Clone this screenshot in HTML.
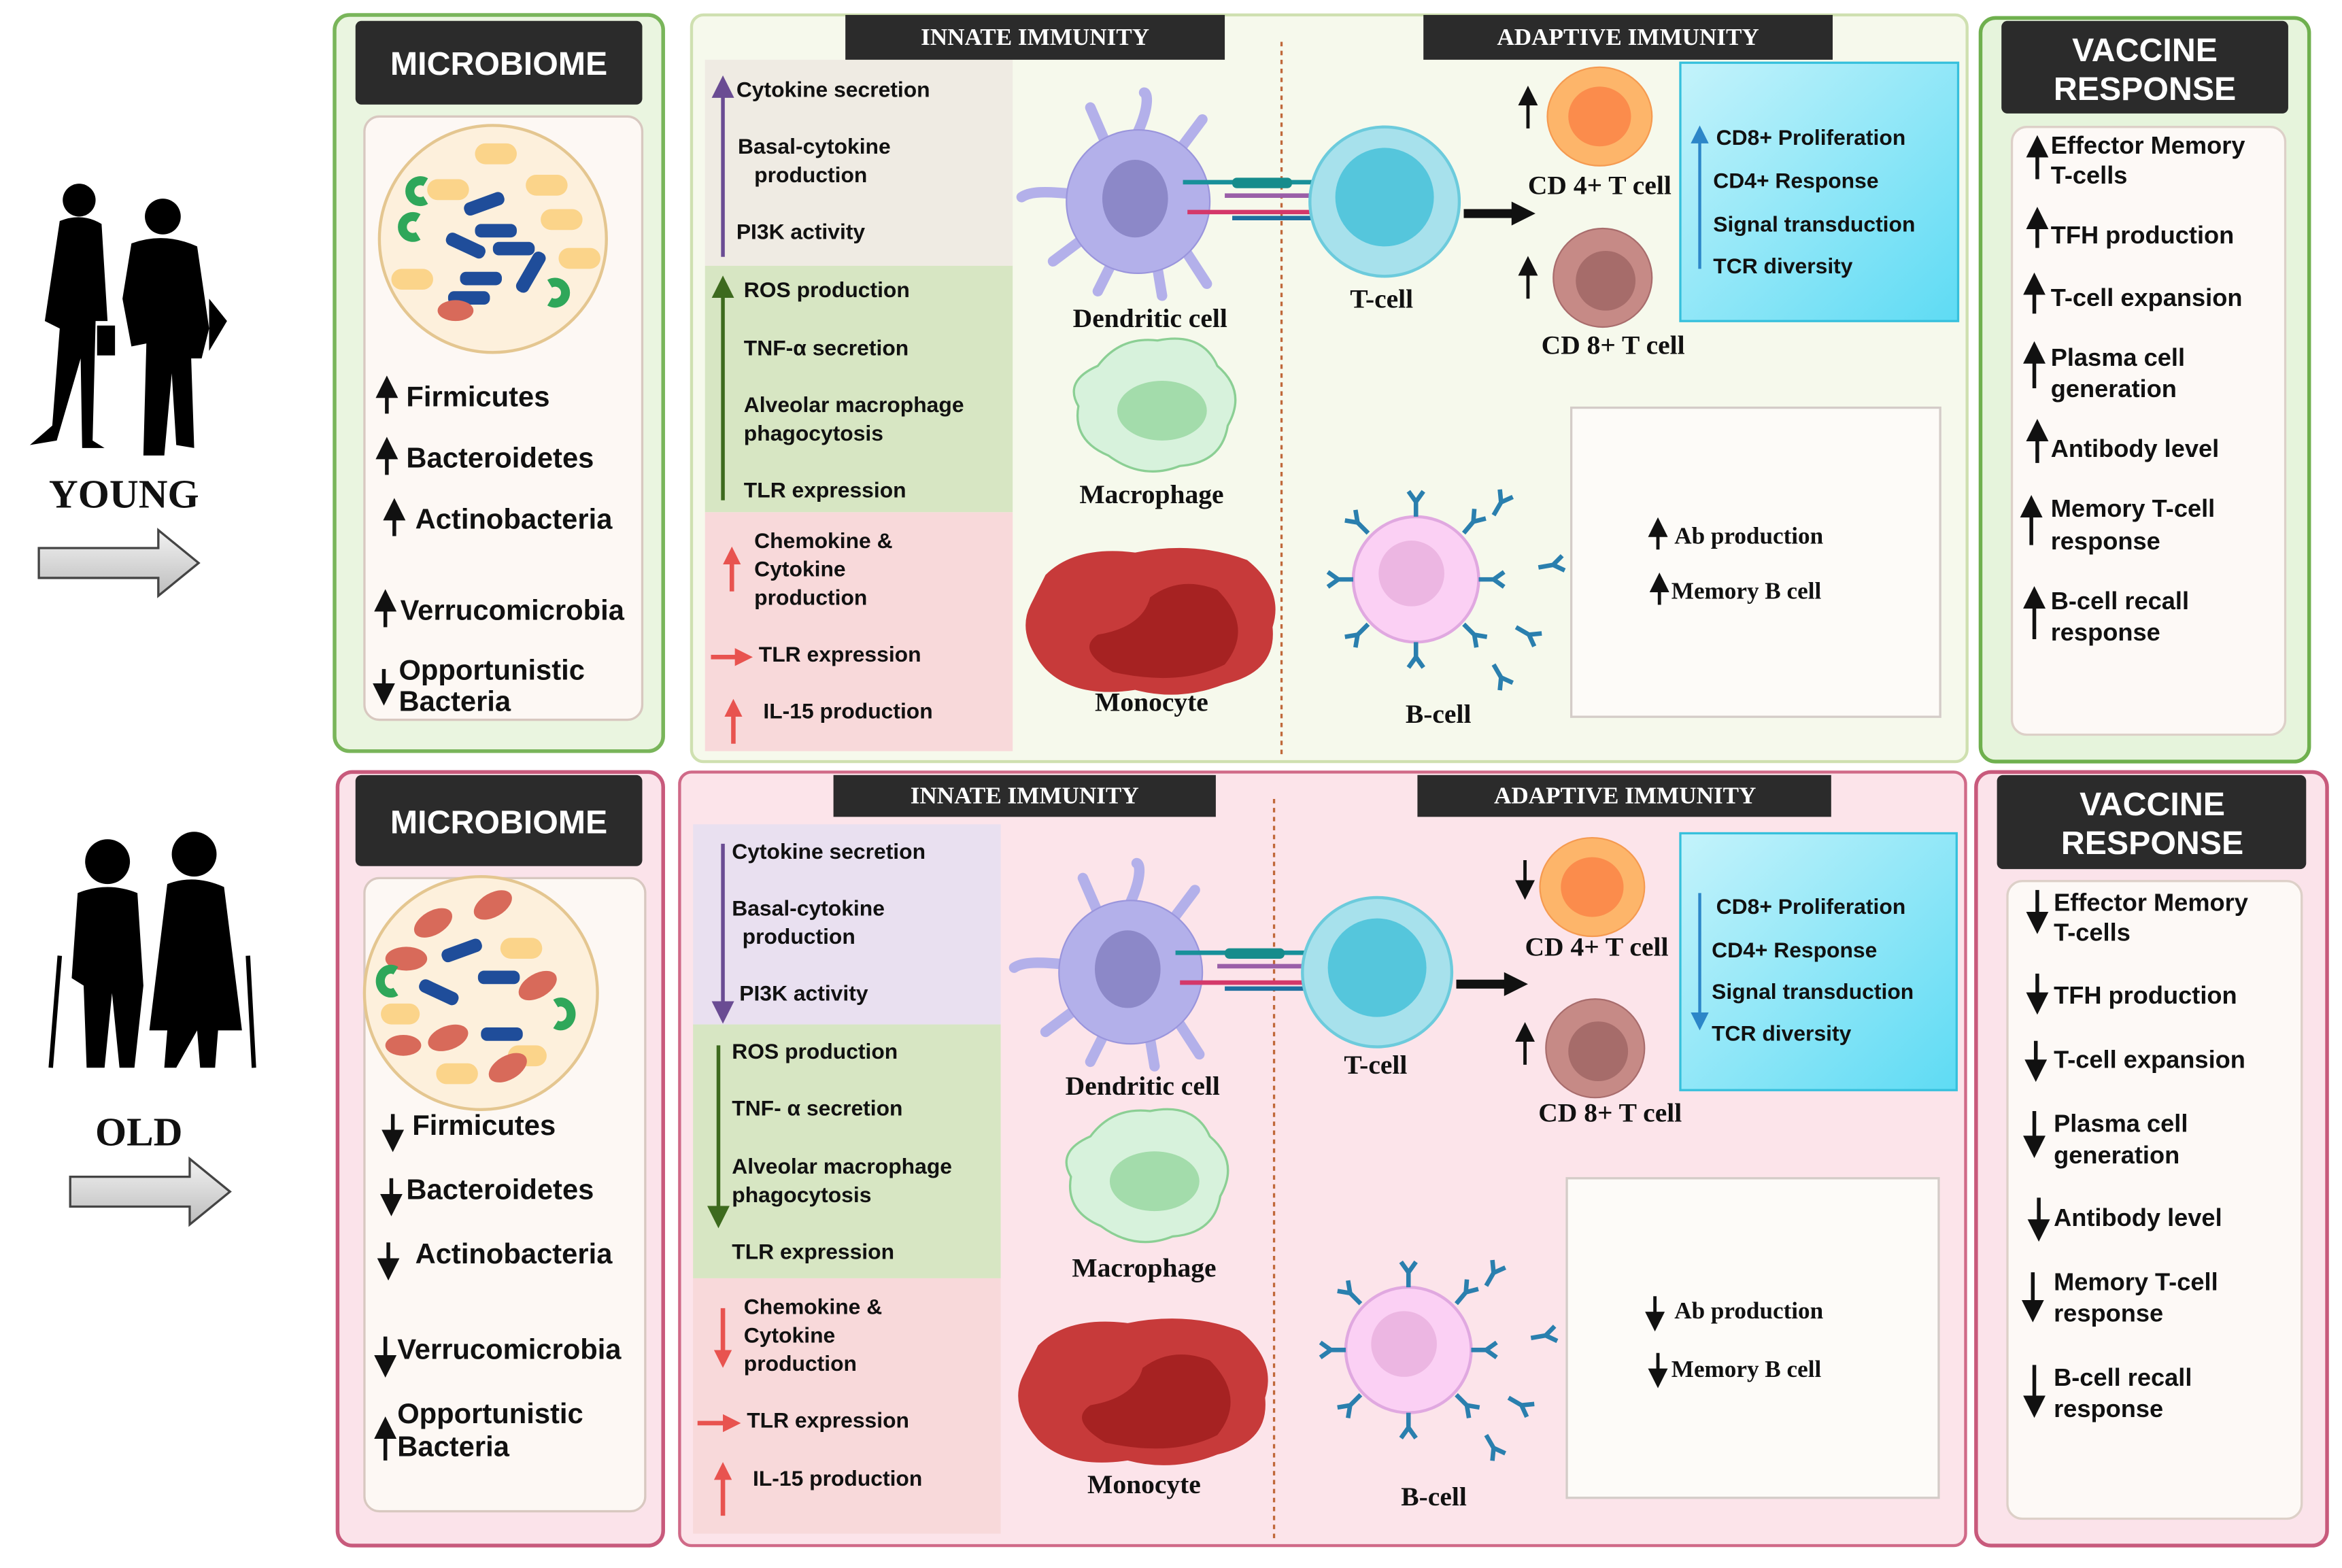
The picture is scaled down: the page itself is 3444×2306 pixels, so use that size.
<!DOCTYPE html>
<html><head><meta charset="utf-8"><style>
html,body{margin:0;padding:0;background:#fff;}
svg{display:block;}
.s{font-family:"Liberation Sans",sans-serif;font-weight:bold;fill:#111;}
.r{font-family:"Liberation Serif",serif;fill:#111;}
.h{font-family:"Liberation Serif",serif;fill:#fff;font-size:16px;font-weight:bold;}
.hb{font-family:"Liberation Sans",sans-serif;fill:#fff;font-weight:bold;}
</style></head><body>
<svg width="3444" height="2306" viewBox="0 0 1568 1050" preserveAspectRatio="none" xmlns="http://www.w3.org/2000/svg">
<defs>
<marker id="ak" markerWidth="6" markerHeight="6" refX="3" refY="3" orient="auto" markerUnits="strokeWidth"><path d="M0,0 L6,3 L0,6z" fill="#111"/></marker>
<marker id="ap" markerWidth="6" markerHeight="6" refX="3" refY="3" orient="auto" markerUnits="strokeWidth"><path d="M0,0 L6,3 L0,6z" fill="#6a4c93"/></marker>
<marker id="ag" markerWidth="6" markerHeight="6" refX="3" refY="3" orient="auto" markerUnits="strokeWidth"><path d="M0,0 L6,3 L0,6z" fill="#3d6a1e"/></marker>
<marker id="ar" markerWidth="4" markerHeight="4" refX="2" refY="2" orient="auto" markerUnits="strokeWidth"><path d="M0,0 L4,2 L0,4z" fill="#e8534f"/></marker>
<marker id="ab" markerWidth="6" markerHeight="6" refX="3" refY="3" orient="auto" markerUnits="strokeWidth"><path d="M0,0 L6,3 L0,6z" fill="#2c86c8"/></marker>
<linearGradient id="cy" x1="0" y1="0" x2="1" y2="1"><stop offset="0" stop-color="#c4f3fb"/><stop offset="1" stop-color="#5edbf4"/></linearGradient>
<linearGradient id="ga" x1="0" y1="0" x2="0" y2="1"><stop offset="0" stop-color="#f2f2f2"/><stop offset="1" stop-color="#bdbdbd"/></linearGradient>
<g id="ab1"><path d="M0,0 v-10 M0,-10 l-5,-7 M0,-10 l5,-7" stroke="#2a7fae" stroke-width="3" fill="none"/></g>
<g id="cells">
 <g fill="#b3b0ea" stroke="#9a95dc" stroke-width="1">
  <path d="M762,88 C770,70 768,62 766,62 M720,130 C700,128 690,128 684,132" stroke="#b3b0ea" stroke-width="7" fill="none" stroke-linecap="round"/>
  <path d="M740,95 L730,72 M790,100 L805,80 M795,170 L808,190 M745,175 L735,195 M725,160 L705,175 M775,180 L778,198" stroke="#b3b0ea" stroke-width="7" fill="none" stroke-linecap="round"/>
  <ellipse cx="762" cy="135" rx="48" ry="48"/>
 </g>
 <ellipse cx="760" cy="133" rx="22" ry="26" fill="#8c88c8"/>
 <g stroke-width="3">
  <path d="M792,122 h100" stroke="#18909a"/><path d="M820,131 h60" stroke="#9a5fa8"/><path d="M795,142 h90" stroke="#d4386a"/><path d="M825,146 h65" stroke="#1f6fa0"/>
 </g>
 <rect x="825" y="119" width="40" height="7" rx="3" fill="#168c8c"/>
 <circle cx="927" cy="135" r="50" fill="#a7e1ec" stroke="#6ccbdc" stroke-width="2"/>
 <circle cx="927" cy="132" r="33" fill="#55c6dc"/>
 <path d="M980,143 h34" stroke="#111" stroke-width="6"/><path d="M1012,135 l16,8 l-16,8z" fill="#111"/>
 <ellipse cx="1071" cy="78" rx="35" ry="33" fill="#fdb56a" stroke="#f59a50"/>
 <ellipse cx="1071" cy="78" rx="21" ry="20" fill="#fb8c4c"/>
 <ellipse cx="1073" cy="186" rx="33" ry="33" fill="#c68a86" stroke="#a86c6c"/>
 <ellipse cx="1075" cy="188" rx="20" ry="20" fill="#a66c6a"/>
 <path d="M735,245 Q750,225 775,228 Q805,222 815,245 Q835,262 822,285 Q818,310 790,312 Q765,322 742,305 Q718,295 722,272 Q712,255 735,245z" fill="#d7f2dc" stroke="#8bcf94" stroke-width="1.5"/>
 <ellipse cx="778" cy="275" rx="30" ry="20" fill="#a3dcab"/>
 <path d="M700,385 Q720,365 760,370 Q800,362 835,375 Q860,395 852,420 Q855,450 820,458 Q790,470 760,462 Q720,468 700,448 Q680,425 690,405z" fill="#c73a3a"/>
 <path d="M770,400 Q790,385 815,395 Q840,420 820,445 Q790,460 745,450 Q720,435 735,425 Q765,420 770,400z" fill="#a62222"/>
 <circle cx="948" cy="388" r="42" fill="#fbd0f4" stroke="#e0a8e0" stroke-width="2"/>
 <circle cx="945" cy="384" r="22" fill="#ecb6e2"/>
 <g>
  <use href="#ab1" transform="translate(948,346)"/>
  <use href="#ab1" transform="translate(980,357) rotate(40)"/>
  <use href="#ab1" transform="translate(990,388) rotate(90)"/>
  <use href="#ab1" transform="translate(980,418) rotate(135)"/>
  <use href="#ab1" transform="translate(948,430) rotate(180)"/>
  <use href="#ab1" transform="translate(916,418) rotate(225)"/>
  <use href="#ab1" transform="translate(906,388) rotate(270)"/>
  <use href="#ab1" transform="translate(916,357) rotate(315)"/>
  <use href="#ab1" transform="translate(1000,345) rotate(30)"/>
  <use href="#ab1" transform="translate(1030,380) rotate(80)"/>
  <use href="#ab1" transform="translate(1015,420) rotate(120)"/>
  <use href="#ab1" transform="translate(1000,445) rotate(150)"/>
 </g>
</g>
</defs>

<g fill="#000">
 <circle cx="53" cy="134" r="11"/><path d="M40,148 Q55,142 68,150 L72,215 L64,215 L62,295 L70,300 L55,300 L54,240 L38,295 L20,298 L35,285 L40,220 L30,215 Z"/>
 <rect x="65" y="218" width="12" height="20"/>
 <circle cx="109" cy="145" r="12"/><path d="M88,163 Q110,155 132,165 L140,220 L135,240 L128,240 L130,300 L118,298 L115,250 L110,305 L96,305 L98,230 L88,232 L82,200 Z"/>
 <path d="M140,200 L152,215 L140,235z"/>
</g>
<text x="83" y="340" text-anchor="middle" class="r" font-size="27" font-weight="bold">YOUNG</text>
<path d="M26,367 h80 v-12 l27,22 l-27,22 v-12 h-80z" fill="url(#ga)" stroke="#444" stroke-width="1.5"/>
<g fill="#000">
 <circle cx="72" cy="577" r="15"/><path d="M52,598 Q72,590 92,598 L96,660 L90,715 L80,715 L75,665 L70,715 L58,715 L56,660 L48,655 Z"/>
 <circle cx="130" cy="572" r="15"/><path d="M112,592 Q130,585 150,594 L162,690 L146,690 L144,715 L134,715 L132,690 L118,715 L110,715 L112,690 L100,690 Z"/>
 <path d="M40,640 L34,715 M166,640 L170,715" stroke="#000" stroke-width="3"/>
</g>
<text x="93" y="767" text-anchor="middle" class="r" font-size="27" font-weight="bold">OLD</text>
<path d="M47,788 h80 v-12 l27,22 l-27,22 v-12 h-80z" fill="url(#ga)" stroke="#444" stroke-width="1.5"/>

<!-- TOP ROW -->
<rect x="224" y="10" width="220" height="493" rx="10" fill="#eaf5e0" stroke="#79b55a" stroke-width="2.5"/>
<rect x="238" y="14" width="192" height="56" rx="4" fill="#2b2b2b"/>
<text x="334" y="50" text-anchor="middle" class="hb" font-size="22">MICROBIOME</text>
<rect x="244" y="78" width="186" height="404" rx="10" fill="#fdf8f4" stroke="#d8c8c0" stroke-width="1.5"/>
<circle cx="330" cy="160" r="76" fill="#fdf0dc" stroke="#e4c690" stroke-width="2"/>
<g fill="#fbd48a"><rect x="318" y="96" width="28" height="14" rx="7"/><rect x="286" y="120" width="28" height="14" rx="7"/><rect x="352" y="117" width="28" height="14" rx="7"/><rect x="362" y="140" width="28" height="14" rx="7"/><rect x="374" y="166" width="28" height="14" rx="7"/><rect x="262" y="180" width="28" height="14" rx="7"/></g>
<g fill="#1f4d9a"><rect x="310" y="132" width="28" height="9" rx="4" transform="rotate(-20 324 136)"/><rect x="318" y="150" width="28" height="9" rx="4"/><rect x="330" y="162" width="28" height="9" rx="4"/><rect x="298" y="160" width="28" height="9" rx="4" transform="rotate(25 312 164)"/><rect x="308" y="182" width="28" height="9" rx="4"/><rect x="340" y="178" width="30" height="9" rx="4" transform="rotate(-60 355 182)"/><rect x="300" y="195" width="28" height="9" rx="4"/></g>
<g fill="none" stroke="#2fa75a" stroke-width="6"><path d="M285,122 a7,7 0 1,0 0,12"/><path d="M280,146 a7,7 0 1,0 0,12"/><path d="M368,190 a7,7 0 1,1 0,12"/></g>
<ellipse cx="305" cy="208" rx="12" ry="7" fill="#d86a5a"/>
<g class="s" font-size="19">
<text x="272" y="272">Firmicutes</text><text x="272" y="313">Bacteroidetes</text><text x="278" y="354">Actinobacteria</text><text x="268" y="415">Verrucomicrobia</text><text x="267" y="455">Opportunistic</text><text x="267" y="476">Bacteria</text>
</g>
<g stroke="#111" stroke-width="2.5" marker-end="url(#ak)"><path d="M259,277 v-18"/><path d="M259,318 v-18"/><path d="M264,359 v-18"/><path d="M258,420 v-18"/><path d="M257,448 v17"/></g>

<rect x="463" y="10" width="854" height="500" rx="8" fill="#f6f9ec" stroke="#cfe0b0" stroke-width="2"/>
<rect x="472" y="40" width="206" height="138" fill="#efebe3"/>
<rect x="472" y="178" width="206" height="165" fill="#d7e6c3"/>
<rect x="472" y="343" width="206" height="160" fill="#f8d9da"/>
<rect x="566" y="10" width="254" height="30" fill="#2b2b2b"/>
<text x="693" y="30" text-anchor="middle" class="h">INNATE IMMUNITY</text>
<rect x="953" y="10" width="274" height="30" fill="#2b2b2b"/>
<text x="1090" y="30" text-anchor="middle" class="h">ADAPTIVE IMMUNITY</text>
<path d="M858,28 V505" stroke="#c0683a" stroke-width="1.5" stroke-dasharray="3,3"/>
<g class="s" font-size="14.5">
<text x="493" y="65">Cytokine secretion</text><text x="494" y="103">Basal-cytokine</text><text x="505" y="122">production</text><text x="493" y="160">PI3K activity</text>
<text x="498" y="199">ROS production</text><text x="498" y="238">TNF-α secretion</text><text x="498" y="276">Alveolar macrophage</text><text x="498" y="295">phagocytosis</text><text x="498" y="333">TLR expression</text>
<text x="505" y="367">Chemokine &amp;</text><text x="505" y="386">Cytokine</text><text x="505" y="405">production</text><text x="508" y="443">TLR expression</text><text x="511" y="481">IL-15 production</text>
</g>
<path d="M484,172 V58" stroke="#6a4c93" stroke-width="2.5" marker-end="url(#ap)"/>
<path d="M484,335 V192" stroke="#3d6a1e" stroke-width="2.5" marker-end="url(#ag)"/>
<path d="M490,396 V372" stroke="#e8534f" stroke-width="3" marker-end="url(#ar)"/>
<path d="M476,440 H498" stroke="#e8534f" stroke-width="3" marker-end="url(#ar)"/>
<path d="M491,498 V474" stroke="#e8534f" stroke-width="3" marker-end="url(#ar)"/>

<rect x="1052" y="273" width="247" height="207" fill="#fdfbf8" stroke="#d4ccc8" stroke-width="1.5"/>
<use href="#cells"/>
<g class="r" font-size="18" font-weight="bold" text-anchor="middle">
<text x="770" y="219">Dendritic cell</text><text x="771" y="337">Macrophage</text><text x="771" y="476">Monocyte</text><text x="925" y="206">T-cell</text><text x="1071" y="130">CD 4+ T cell</text><text x="1080" y="237">CD 8+ T cell</text><text x="963" y="484">B-cell</text>
</g>
<g stroke="#111" stroke-width="2.2" marker-end="url(#ak)"><path d="M1023,86 v-22"/><path d="M1023,200 v-22"/><path d="M1110,368 v-15"/><path d="M1111,405 v-15"/></g>
<rect x="1125" y="42" width="186" height="173" fill="url(#cy)" stroke="#36c0dc" stroke-width="1.5"/>
<path d="M1138,180 V90" stroke="#2c86c8" stroke-width="2" marker-end="url(#ab)"/>
<g class="s" font-size="14.5"><text x="1149" y="97">CD8+ Proliferation</text><text x="1147" y="126">CD4+ Response</text><text x="1147" y="155">Signal transduction</text><text x="1147" y="183">TCR diversity</text></g>
<g class="r" font-size="16" font-weight="bold"><text x="1121" y="364">Ab production</text><text x="1119" y="401">Memory B cell</text></g>

<rect x="1326" y="12" width="220" height="498" rx="10" fill="#e6f4dc" stroke="#6fb04e" stroke-width="2.5"/>
<rect x="1340" y="14" width="192" height="62" rx="4" fill="#2b2b2b"/>
<text x="1436" y="41" text-anchor="middle" class="hb" font-size="22">VACCINE</text>
<text x="1436" y="67" text-anchor="middle" class="hb" font-size="22">RESPONSE</text>
<rect x="1347" y="85" width="183" height="407" rx="10" fill="#fdf9f6" stroke="#ddd0c8" stroke-width="1.5"/>
<g class="s" font-size="16.5">
<text x="1373" y="103">Effector Memory</text><text x="1373" y="123">T-cells</text><text x="1373" y="163">TFH production</text><text x="1373" y="205">T-cell expansion</text><text x="1373" y="245">Plasma cell</text><text x="1373" y="266">generation</text><text x="1373" y="306">Antibody level</text><text x="1373" y="346">Memory T-cell</text><text x="1373" y="368">response</text><text x="1373" y="408">B-cell recall</text><text x="1373" y="429">response</text>
</g>
<g stroke="#111" stroke-width="2.5" marker-end="url(#ak)"><path d="M1364,120 v-22"/><path d="M1364,166 v-20"/><path d="M1362,210 v-20"/><path d="M1362,260 v-24"/><path d="M1364,310 v-22"/><path d="M1360,365 v-26"/><path d="M1362,428 v-28"/></g>

<!-- BOTTOM ROW -->
<rect x="226" y="517" width="218" height="518" rx="10" fill="#fbe3ea" stroke="#c85a7c" stroke-width="2.5"/>
<rect x="238" y="519" width="192" height="61" rx="4" fill="#2b2b2b"/>
<text x="334" y="558" text-anchor="middle" class="hb" font-size="22">MICROBIOME</text>
<rect x="244" y="588" width="188" height="424" rx="10" fill="#fdf8f4" stroke="#d8c8c0" stroke-width="1.5"/>
<circle cx="322" cy="665" r="78" fill="#fdf0dc" stroke="#e4c690" stroke-width="2"/>
<g fill="#fbd48a"><rect x="335" y="628" width="28" height="14" rx="7"/><rect x="255" y="672" width="26" height="14" rx="7"/><rect x="292" y="712" width="28" height="14" rx="7"/><rect x="340" y="700" width="26" height="14" rx="7"/></g>
<g fill="#1f4d9a"><rect x="295" y="632" width="28" height="9" rx="4" transform="rotate(-20 309 636)"/><rect x="280" y="660" width="28" height="9" rx="4" transform="rotate(25 294 664)"/><rect x="320" y="650" width="28" height="9" rx="4"/><rect x="322" y="688" width="28" height="9" rx="4"/></g>
<g fill="#d86a5a"><ellipse cx="290" cy="618" rx="14" ry="8" transform="rotate(-30 290 618)"/><ellipse cx="330" cy="606" rx="14" ry="8" transform="rotate(-30 330 606)"/><ellipse cx="272" cy="642" rx="14" ry="8"/><ellipse cx="360" cy="660" rx="14" ry="8" transform="rotate(-30 360 660)"/><ellipse cx="300" cy="695" rx="14" ry="8" transform="rotate(-20 300 695)"/><ellipse cx="340" cy="715" rx="14" ry="8" transform="rotate(-30 340 715)"/><ellipse cx="270" cy="700" rx="12" ry="7"/></g>
<g fill="none" stroke="#2fa75a" stroke-width="6"><path d="M265,650 a7,8 0 1,0 0,14"/><path d="M372,672 a7,8 0 1,1 0,14"/></g>
<g class="s" font-size="19">
<text x="276" y="760">Firmicutes</text><text x="272" y="803">Bacteroidetes</text><text x="278" y="846">Actinobacteria</text><text x="266" y="910">Verrucomicrobia</text><text x="266" y="953">Opportunistic</text><text x="266" y="975">Bacteria</text>
</g>
<g stroke="#111" stroke-width="2.5" marker-end="url(#ak)"><path d="M263,746 v18"/><path d="M262,789 v18"/><path d="M260,832 v18"/><path d="M258,895 v20"/><path d="M258,978 v-22"/></g>

<rect x="455" y="517" width="861" height="518" rx="8" fill="#fce4ea" stroke="#d06a88" stroke-width="2"/>
<rect x="464" y="552" width="206" height="134" fill="#e9e0f0"/>
<rect x="464" y="686" width="206" height="170" fill="#d7e6c3"/>
<rect x="464" y="856" width="206" height="171" fill="#f8d9da"/>
<rect x="558" y="519" width="256" height="28" fill="#2b2b2b"/>
<text x="686" y="538" text-anchor="middle" class="h">INNATE IMMUNITY</text>
<rect x="949" y="519" width="277" height="28" fill="#2b2b2b"/>
<text x="1088" y="538" text-anchor="middle" class="h">ADAPTIVE IMMUNITY</text>
<path d="M853,535 V1030" stroke="#c0683a" stroke-width="1.5" stroke-dasharray="3,3"/>
<g class="s" font-size="14.5">
<text x="490" y="575">Cytokine secretion</text><text x="490" y="613">Basal-cytokine</text><text x="497" y="632">production</text><text x="495" y="670">PI3K activity</text>
<text x="490" y="709">ROS production</text><text x="490" y="747">TNF- α secretion</text><text x="490" y="786">Alveolar macrophage</text><text x="490" y="805">phagocytosis</text><text x="490" y="843">TLR expression</text>
<text x="498" y="880">Chemokine &amp;</text><text x="498" y="899">Cytokine</text><text x="498" y="918">production</text><text x="500" y="956">TLR expression</text><text x="504" y="995">IL-15 production</text>
</g>
<path d="M484,565 V678" stroke="#6a4c93" stroke-width="2.5" marker-end="url(#ap)"/>
<path d="M481,700 V815" stroke="#3d6a1e" stroke-width="2.5" marker-end="url(#ag)"/>
<path d="M484,876 V910" stroke="#e8534f" stroke-width="3" marker-end="url(#ar)"/>
<path d="M467,953 H490" stroke="#e8534f" stroke-width="3" marker-end="url(#ar)"/>
<path d="M484,1015 V985" stroke="#e8534f" stroke-width="3" marker-end="url(#ar)"/>

<rect x="1049" y="789" width="249" height="214" fill="#fdfbf8" stroke="#d4ccc8" stroke-width="1.5"/>
<use href="#cells" transform="translate(-5,516)"/>
<g class="r" font-size="18" font-weight="bold" text-anchor="middle">
<text x="765" y="733">Dendritic cell</text><text x="766" y="855">Macrophage</text><text x="766" y="1000">Monocyte</text><text x="921" y="719">T-cell</text><text x="1069" y="640">CD 4+ T cell</text><text x="1078" y="751">CD 8+ T cell</text><text x="960" y="1008">B-cell</text>
</g>
<g stroke="#111" stroke-width="2.2" marker-end="url(#ak)"><path d="M1021,576 v20"/><path d="M1021,713 v-22"/><path d="M1108,868 v17"/><path d="M1110,906 v17"/></g>
<rect x="1125" y="558" width="185" height="172" fill="url(#cy)" stroke="#36c0dc" stroke-width="1.5"/>
<path d="M1138,598 V684" stroke="#2c86c8" stroke-width="2" marker-end="url(#ab)"/>
<g class="s" font-size="14.5"><text x="1149" y="612">CD8+ Proliferation</text><text x="1146" y="641">CD4+ Response</text><text x="1146" y="669">Signal transduction</text><text x="1146" y="697">TCR diversity</text></g>
<g class="r" font-size="16" font-weight="bold"><text x="1121" y="883">Ab production</text><text x="1119" y="922">Memory B cell</text></g>

<rect x="1323" y="517" width="235" height="518" rx="10" fill="#fbe3ea" stroke="#c85a7c" stroke-width="2.5"/>
<rect x="1337" y="519" width="207" height="63" rx="4" fill="#2b2b2b"/>
<text x="1441" y="546" text-anchor="middle" class="hb" font-size="22">VACCINE</text>
<text x="1441" y="572" text-anchor="middle" class="hb" font-size="22">RESPONSE</text>
<rect x="1344" y="590" width="197" height="427" rx="10" fill="#fdf9f6" stroke="#ddd0c8" stroke-width="1.5"/>
<g class="s" font-size="16.5">
<text x="1375" y="610">Effector Memory</text><text x="1375" y="630">T-cells</text><text x="1375" y="672">TFH production</text><text x="1375" y="715">T-cell expansion</text><text x="1375" y="758">Plasma cell</text><text x="1375" y="779">generation</text><text x="1375" y="821">Antibody level</text><text x="1375" y="864">Memory T-cell</text><text x="1375" y="885">response</text><text x="1375" y="928">B-cell recall</text><text x="1375" y="949">response</text>
</g>
<g stroke="#111" stroke-width="2.5" marker-end="url(#ak)"><path d="M1364,596 v22"/><path d="M1364,652 v20"/><path d="M1363,697 v20"/><path d="M1362,744 v24"/><path d="M1365,802 v22"/><path d="M1361,852 v26"/><path d="M1362,914 v28"/></g>
</svg>
</body></html>
